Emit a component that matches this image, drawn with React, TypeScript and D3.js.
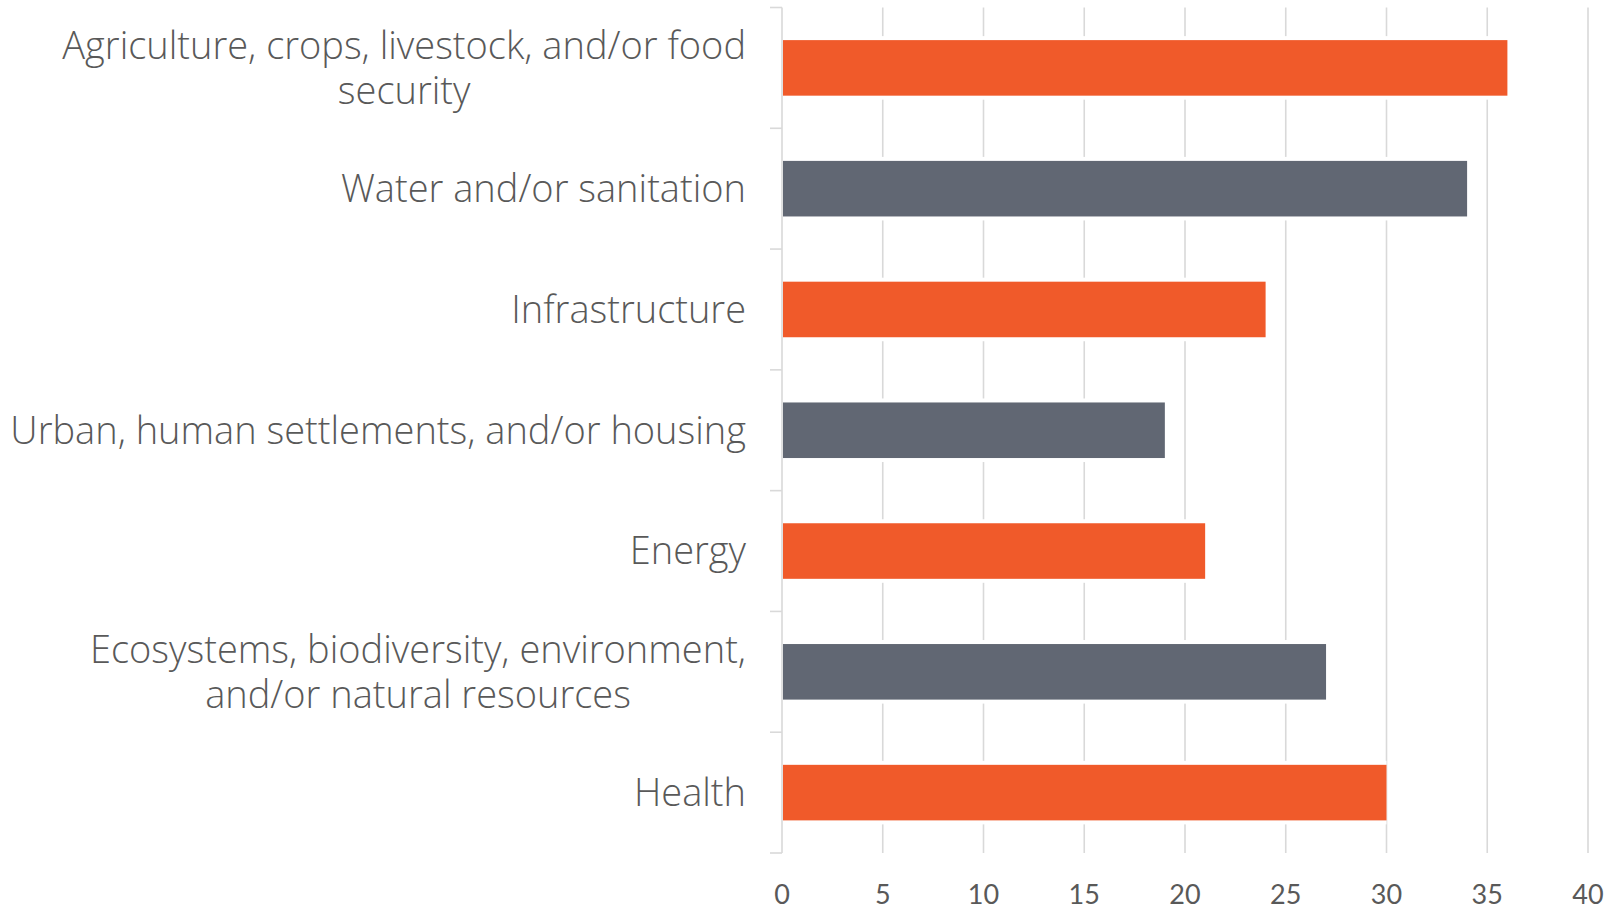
import React from 'react';
import * as d3 from 'd3';

const categories = [
  'Agriculture, crops, livestock, and/or food security',
  'Water and/or sanitation',
  'Infrastructure',
  'Urban, human settlements, and/or housing',
  'Energy',
  'Ecosystems, biodiversity, environment, and/or natural resources',
  'Health',
];

// how each category label is broken into lines
const labelLines = [
  ['Agriculture, crops, livestock, and/or food', 'security'],
  ['Water and/or sanitation'],
  ['Infrastructure'],
  ['Urban, human settlements, and/or housing'],
  ['Energy'],
  ['Ecosystems, biodiversity, environment,', 'and/or natural resources'],
  ['Health'],
];

const values = [36, 34, 24, 19, 21, 27, 30];
const xTicks = [0, 5, 10, 15, 20, 25, 30, 35, 40];

const ORANGE = '#f05a2a';
const GREY = '#616773';
const GRID = '#d9d9d9';
const TEXT = '#595959';

const W = 1609;
const H = 909;
const margin = { top: 7.5, right: 21, bottom: 56, left: 782 };

const LABEL_SIZE = 38;
const LABEL_FONT = `300 ${LABEL_SIZE}px "Open Sans"`;

let ctx: CanvasRenderingContext2D | null = null;
function measure(s: string) {
  if (!ctx) ctx = document.createElement('canvas').getContext('2d');
  if (!ctx) return s.length * 18;
  ctx.font = LABEL_FONT;
  return ctx.measureText(s).width;
}

export default function App() {
  const innerW = W - margin.left - margin.right;
  const innerH = H - margin.top - margin.bottom;

  const x = d3.scaleLinear().domain([0, 40]).range([0, innerW]);
  const y = d3.scaleBand<string>().domain(categories).range([0, innerH]).paddingInner(0.54).paddingOuter(0.27);
  const step = innerH / categories.length;
  const labelRight = 746 - margin.left;
  const lineH = 45;

  return (
    <div style={{ position: 'absolute', left: 0, top: 0 }}>
      <svg width={W} height={H} style={{ display: 'block' }}>
        <g transform={`translate(${margin.left},${margin.top})`}>
          {/* vertical grid */}
          {xTicks.map((t) => (
            <line key={t} x1={x(t)} x2={x(t)} y1={0} y2={innerH} stroke={GRID} strokeWidth={1.6} />
          ))}
          {/* category ticks */}
          {d3.range(categories.length + 1).map((i) => (
            <line key={i} x1={-12} x2={0} y1={i * step} y2={i * step} stroke={GRID} strokeWidth={1.6} />
          ))}
          {/* bars with white gap around */}
          {categories.map((c, i) => (
            <g key={c}>
              <rect x={1} y={(y(c) ?? 0) - 4} width={x(values[i]) - 1} height={y.bandwidth() + 8} fill="#fff" />
              <rect x={1} y={y(c)} width={x(values[i]) - 1} height={y.bandwidth()} fill={i % 2 === 0 ? ORANGE : GREY} />
            </g>
          ))}
          {/* x tick labels */}
          {xTicks.map((t) => (
            <text key={t} x={x(t)} y={innerH + 51} textAnchor="middle" fontFamily="Lato, sans-serif" fontSize={27} fill={TEXT}>
              {t}
            </text>
          ))}
          {/* category labels: block right-aligned, lines centred in block */}
          {categories.map((c, i) => {
            const lines = labelLines[i];
            const cy = (y(c) ?? 0) + y.bandwidth() / 2;
            const y0 = cy - ((lines.length - 1) * lineH) / 2;
            const blockW = d3.max(lines, measure) ?? 0;
            const cx = labelRight - blockW / 2;
            return (
              <text key={c} fontFamily='"Open Sans", sans-serif' fontWeight={300} fontSize={LABEL_SIZE} fill={TEXT} textAnchor="middle">
                {lines.map((l, j) => (
                  <tspan key={j} x={cx} y={y0 + j * lineH} dy="0.35em">{l}</tspan>
                ))}
              </text>
            );
          })}
        </g>
      </svg>
    </div>
  );
}
